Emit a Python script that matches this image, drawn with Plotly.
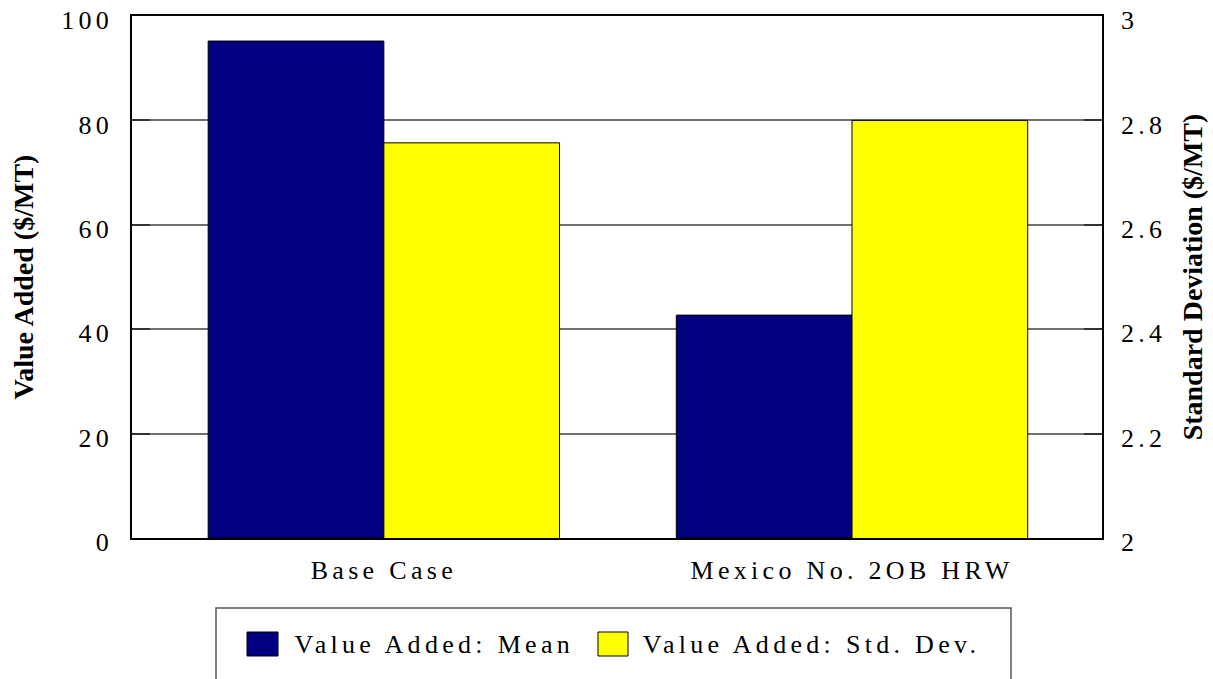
import plotly.graph_objects as go

# Data
categories = ["Base Case", "Mexico No. 2OB HRW"]
mean_values = [95.2, 42.7]          # Value Added: Mean ($/MT), left axis
std_values = [2.757, 2.80]           # Value Added: Std. Dev. ($/MT), right axis
series_names = ["Value Added: Mean", "Value Added: Std. Dev."]
left_title = "Value Added ($/MT)"
right_title = "Standard Deviation ($/MT)"

NAVY = "#000080"
YELLOW = "#FFFF00"
FONT = "Liberation Serif"

W, H = 1213, 679
L, R, T, B = 132, 111, 16, 141
PW, PH = W - L - R, H - T - B

xpos = list(range(len(categories)))
bar_w = 0.3753

fig = go.Figure()
fig.add_trace(go.Bar(
    x=xpos, y=mean_values, name=series_names[0], yaxis="y",
    width=bar_w, offset=-bar_w,
    marker=dict(color=NAVY, line=dict(color="black", width=1)),
    showlegend=False,
))
fig.add_trace(go.Bar(
    x=xpos, y=std_values, name=series_names[1], yaxis="y2",
    width=bar_w, offset=0,
    marker=dict(color=YELLOW, line=dict(color="black", width=1)),
    showlegend=False,
))


def px_x(p):
    return (p - L) / PW


def px_y(p):
    return (H - B - p) / PH


# Legend box drawn below the plot
shapes = [
    dict(type="rect", xref="paper", yref="paper",
         x0=px_x(216), x1=px_x(1011), y0=px_y(700), y1=px_y(608),
         line=dict(color="#555555", width=1.5), fillcolor="white", layer="above"),
    dict(type="rect", xref="paper", yref="paper",
         x0=px_x(247), x1=px_x(278), y0=px_y(656), y1=px_y(632),
         line=dict(color="black", width=1), fillcolor=NAVY, layer="above"),
    dict(type="rect", xref="paper", yref="paper",
         x0=px_x(598), x1=px_x(628), y0=px_y(656), y1=px_y(632),
         line=dict(color="black", width=1), fillcolor=YELLOW, layer="above"),
]
annotations = [
    dict(text=series_names[0], xref="paper", yref="paper",
         x=px_x(434), y=px_y(644), xanchor="center", yanchor="middle",
         showarrow=False, font=dict(family=FONT, size=26, color="black")),
    dict(text=series_names[1], xref="paper", yref="paper",
         x=px_x(811), y=px_y(644), xanchor="center", yanchor="middle",
         showarrow=False, font=dict(family=FONT, size=26, color="black")),
]

tickfont = dict(family=FONT, size=26, color="black")
titlefont = dict(family=FONT, size=28, color="black", weight="bold")

fig.update_layout(
    width=W, height=H,
    margin=dict(l=L, r=R, t=T, b=B, pad=0, autoexpand=False),
    paper_bgcolor="white", plot_bgcolor="white",
    barmode="overlay",
    shapes=shapes, annotations=annotations,
    xaxis=dict(
        range=[-0.538, 1.534], tickvals=xpos, ticktext=categories,
        tickfont=tickfont, ticks="", showgrid=False, zeroline=False,
        showline=True, linecolor="black", linewidth=1.5, mirror=True,
        ticklabelstandoff=8, automargin=False,
    ),
    yaxis=dict(
        range=[0, 100], dtick=20, tickfont=tickfont,
        ticks="inside", ticklen=18, tickcolor="#333333", tickwidth=1.5,
        showgrid=True, gridcolor="#707070", gridwidth=1.5, zeroline=False,
        showline=True, linecolor="black", linewidth=1.5,
        ticklabelstandoff=12, automargin=False,
        title=dict(text=left_title, font=titlefont, standoff=32),
    ),
    yaxis2=dict(
        range=[2, 3], dtick=0.2, tickfont=tickfont, overlaying="y", side="right",
        ticks="inside", ticklen=18, tickcolor="#333333", tickwidth=1.5,
        showgrid=False, zeroline=False,
        showline=True, linecolor="black", linewidth=1.5,
        ticklabelstandoff=12, automargin=False,
        title=dict(text=right_title, font=titlefont, standoff=30),
    ),
)

# Widen character spacing of the tick and legend labels; nudge y tick labels down
post = """
var gd = document.getElementById('{plot_id}');
var NUDGE = ' translate(0,4)';
function spread() {
  gd.querySelectorAll('.xtick text, .ytick text, .y2tick text, .annotation-text')
    .forEach(function (t) { t.style.letterSpacing = '4.3px'; });
  gd.querySelectorAll('.ytick text, .y2tick text').forEach(function (t) {
    var tr = t.getAttribute('transform') || '';
    if (tr.slice(-NUDGE.length) !== NUDGE) { t.setAttribute('transform', tr + NUDGE); }
  });
}
spread();
gd.on('plotly_afterplot', spread);
"""

fig.write_html("out.html", post_script=post)
